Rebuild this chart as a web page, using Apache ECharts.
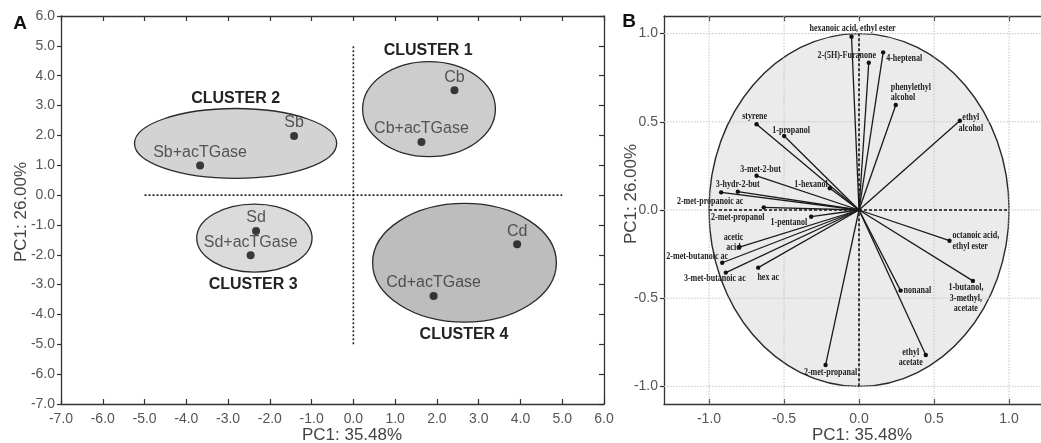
<!DOCTYPE html>
<html>
<head>
<meta charset="utf-8">
<script src="https://cdn.jsdelivr.net/npm/echarts@6/dist/echarts.min.js"></script>
<style>
html,body{margin:0;padding:0;background:#fff;}
#c{width:1041px;height:443px;}
</style>
</head>
<body>
<div id="c"></div>
<script>
// ---------- Panel A data ----------
const sampleNames = ['Cb','Cb+acTGase','Sb','Sb+acTGase','Sd','Sd+acTGase','Cd','Cd+acTGase'];
const sampleX = [2.42, 1.63, -1.42, -3.67, -2.33, -2.46, 3.92, 1.92];
const sampleY = [3.51, 1.78, 1.98, 0.99, -1.20, -2.02, -1.65, -3.38];

const clusterNames = ['CLUSTER 1','CLUSTER 2','CLUSTER 3','CLUSTER 4'];
const clusterCX = [1.81, -2.82, -2.37, 2.66];
const clusterCY = [2.88, 1.73, -1.44, -2.27];
const clusterRX = [1.59, 2.42, 1.38, 2.20];
const clusterRY = [1.59, 1.17, 1.14, 1.99];
const clusterLabelX = [1.79, -2.82, -2.40, 2.65];
const clusterLabelY = [4.84, 3.24, -3.01, -4.69];

const refLinesA = [[-5, 0, 5, 0], [0, -5, 0, 5]];

// ---------- Panel B data ----------
const loadNames = [
  'hexanoic acid, ethyl ester','2-(5H)-Furanone','4-heptenal','phenylethyl\nalcohol','ethyl\nalcohol',
  'styrene','1-propanol','3-met-2-but','3-hydr-2-but','2-met-propanoic ac','1-hexanol',
  '2-met-propanol','1-pentanol','acetic\nacid','2-met-butanoic ac','3-met-butanoic ac','hex ac',
  '2-met-propanal','octanoic acid,\nethyl ester','1-butanol,\n3-methyl,\nacetate','nonanal','ethyl\nacetate'
];
const loadX = [-0.05, 0.065, 0.161, 0.245, 0.672, -0.683, -0.499, -0.683, -0.808, -0.919, -0.195,
  -0.635, -0.319, -0.797, -0.912, -0.888, -0.672, -0.223, 0.603, 0.759, 0.277, 0.445];
const loadY = [0.982, 0.835, 0.894, 0.595, 0.506, 0.486, 0.420, 0.194, 0.104, 0.100, 0.123,
  0.015, -0.038, -0.210, -0.299, -0.355, -0.327, -0.879, -0.174, -0.402, -0.457, -0.822];
const ticksB = [-1.0, -0.5, 0.0, 0.5, 1.0];
const refLinesB = [[-1, 0, 1, 0], [0, -1, 0, 1]];
const rangeBX = [-1.3, 1.213];
const rangeBY = [-1.1, 1.1];

// label layout (pixel offsets from the point, alignment)
const loadLabelLayout = [
  [1,-9,'center'],[-22,-8,'center'],[3,6,'left'],[-5,-13,'left'],[11,2,'center'],
  [-2,-8,'center'],[7,-6,'center'],[4,-7,'center'],[0,-8,'center'],[-11,8.5,'center'],[-2,-4,'right'],
  [-26,10,'center'],[-4,5,'right'],[-6,-5,'center'],[-25,-7,'center'],[-11,6,'center'],[10,9,'center'],
  [5,7,'center'],[3,0,'left'],[-7,17,'center'],[3,0,'left'],[-15,2,'center']
];
const clusterFills = ['#cdcdcd','#d3d3d3','#dbdbdb','#bdbdbd'];

const AX = '#333';
const LBL = '#555';
const sans = '"Liberation Sans", Arial, sans-serif';
const fmt1 = v => Number(v).toFixed(1);

function lineAxis(opts){ return Object.assign({
  type:'value', splitLine:{show:false},
  axisLine:{show:true, onZero:false, lineStyle:{color:AX, width:1.3}},
  axisTick:{show:true, inside:true, length:5, lineStyle:{color:AX, width:1.2}},
  axisLabel:{show:false}
}, opts); }

const chart = echarts.init(document.getElementById('c'), null, {renderer:'canvas'});

const option = {
  animation:false,
  backgroundColor:'#fff',
  grid:[
    {left:61, top:16, width:543, height:388},
    {left:664, top:16, right:0, height:388}
  ],
  xAxis:[
    lineAxis({gridIndex:0, position:'bottom', min:-7, max:6, interval:1,
      axisLabel:{show:true, formatter:fmt1, color:LBL, fontSize:14, fontFamily:sans, margin:8}}),
    lineAxis({gridIndex:0, position:'top', min:-7, max:6, interval:1}),
    lineAxis({gridIndex:1, position:'bottom', min:rangeBX[0], max:rangeBX[1],
      axisTick:{show:true, inside:true, length:5, customValues:ticksB, lineStyle:{color:AX,width:1.2}},
      axisLabel:{show:true, customValues:ticksB, formatter:fmt1, color:LBL, fontSize:14, fontFamily:sans, margin:8}}),
    lineAxis({gridIndex:1, position:'top', min:rangeBX[0], max:rangeBX[1],
      axisTick:{show:true, inside:true, length:5, customValues:ticksB, lineStyle:{color:AX,width:1.2}}})
  ],
  yAxis:[
    lineAxis({gridIndex:0, position:'left', min:-7, max:6, interval:1,
      axisTick:{show:true, inside:false, length:4, lineStyle:{color:AX,width:1.2}},
      axisLabel:{show:true, formatter:fmt1, color:LBL, fontSize:14, fontFamily:sans, margin:6}}),
    lineAxis({gridIndex:0, position:'right', min:-7, max:6, interval:1}),
    lineAxis({gridIndex:1, position:'left', min:rangeBY[0], max:rangeBY[1],
      axisTick:{show:true, inside:false, length:4, customValues:ticksB, lineStyle:{color:AX,width:1.2}},
      axisLabel:{show:true, customValues:ticksB, formatter:fmt1, color:LBL, fontSize:14, fontFamily:sans, margin:6}})
  ],
  graphic:[
    {type:'text', x:20, y:24, style:{text:'A', font:'bold 19px '+sans, fill:'#111', textAlign:'center', textVerticalAlign:'middle', align:'center', verticalAlign:'middle'}},
    {type:'text', x:629, y:22, style:{text:'B', font:'bold 19px '+sans, fill:'#111', textAlign:'center', textVerticalAlign:'middle', align:'center', verticalAlign:'middle'}},
    {type:'text', x:352, y:435, style:{text:'PC1: 35.48%', font:'17px '+sans, fill:'#444', textAlign:'center', textVerticalAlign:'middle', align:'center', verticalAlign:'middle'}},
    {type:'text', x:862, y:435, style:{text:'PC1: 35.48%', font:'17px '+sans, fill:'#444', textAlign:'center', textVerticalAlign:'middle', align:'center', verticalAlign:'middle'}},
    {type:'text', x:21, y:212, rotation:Math.PI/2, style:{text:'PC1: 26.00%', font:'17px '+sans, fill:'#444', textAlign:'center', textVerticalAlign:'middle', align:'center', verticalAlign:'middle'}},
    {type:'text', x:631, y:194, rotation:Math.PI/2, style:{text:'PC1: 26.00%', font:'17px '+sans, fill:'#444', textAlign:'center', textVerticalAlign:'middle', align:'center', verticalAlign:'middle'}}
  ],
  series:[
    // Panel A: cluster ellipses
    {type:'custom', xAxisIndex:0, yAxisIndex:0, z:1,
      data: clusterCX.map((x,i)=>[x, clusterCY[i], clusterRX[i], clusterRY[i]]),
      encode:{x:0, y:1},
      renderItem:(params, api)=>{
        const c = api.coord([api.value(0), api.value(1)]);
        const s = api.size([api.value(2), api.value(3)]);
        return {type:'ellipse', shape:{cx:c[0], cy:c[1], rx:s[0], ry:s[1]},
          style:{fill:clusterFills[params.dataIndex], stroke:'#2a2a2a', lineWidth:1.3}};
      }},
    // Panel A: dotted reference lines
    {type:'custom', xAxisIndex:0, yAxisIndex:0, z:2,
      data: refLinesA, encode:{x:[0,2], y:[1,3]},
      renderItem:(params, api)=>{
        const a = api.coord([api.value(0), api.value(1)]);
        const b = api.coord([api.value(2), api.value(3)]);
        return {type:'line', shape:{x1:a[0], y1:a[1], x2:b[0], y2:b[1]},
          style:{stroke:'#222', lineWidth:1.6, lineDash:[2,2]}};
      }},
    // Panel A: cluster labels
    {type:'custom', xAxisIndex:0, yAxisIndex:0, z:3,
      data: clusterLabelX.map((x,i)=>[x, clusterLabelY[i]]),
      encode:{x:0, y:1},
      renderItem:(params, api)=>{
        const c = api.coord([api.value(0), api.value(1)]);
        return {type:'text', x:c[0], y:c[1],
          style:{text:clusterNames[params.dataIndex], font:'bold 16px '+sans, fill:'#222',
            align:'center', verticalAlign:'middle', textAlign:'center', textVerticalAlign:'middle'}};
      }},
    // Panel A: sample points
    {type:'scatter', xAxisIndex:0, yAxisIndex:0, z:4,
      data: sampleX.map((x,i)=>({value:[x, sampleY[i]], name:sampleNames[i]})),
      symbol:'circle', symbolSize:8, itemStyle:{color:'#111'},
      label:{show:true, position:'top', distance:1, formatter:p=>p.name,
        color:'#333', fontSize:16, fontFamily:sans, lineHeight:16}},

    // Panel B: correlation circle
    {type:'custom', xAxisIndex:2, yAxisIndex:2, z:1,
      data:[[0,0,1,1]], encode:{x:0, y:1},
      renderItem:(params, api)=>{
        const c = api.coord([api.value(0), api.value(1)]);
        const s = api.size([api.value(2), api.value(3)]);
        return {type:'ellipse', shape:{cx:c[0], cy:c[1], rx:s[0], ry:s[1]},
          style:{fill:'#ebebeb', stroke:'#2a2a2a', lineWidth:1.4}};
      }},
    // Panel B: light grid lines
    {type:'custom', xAxisIndex:2, yAxisIndex:2, z:2,
      data: ticksB.map(t=>[t, rangeBY[0], t, rangeBY[1]]).concat(ticksB.map(t=>[rangeBX[0], t, rangeBX[1], t])),
      encode:{x:[0,2], y:[1,3]},
      renderItem:(params, api)=>{
        const a = api.coord([api.value(0), api.value(1)]);
        const b = api.coord([api.value(2), api.value(3)]);
        return {type:'line', shape:{x1:a[0], y1:a[1], x2:b[0], y2:b[1]},
          style:{stroke:'#c4c4c4', lineWidth:1, lineDash:[1.5,1.5]}};
      }},
    // Panel B: dark dashed axes through origin
    {type:'custom', xAxisIndex:2, yAxisIndex:2, z:3,
      data: refLinesB, encode:{x:[0,2], y:[1,3]},
      renderItem:(params, api)=>{
        const a = api.coord([api.value(0), api.value(1)]);
        const b = api.coord([api.value(2), api.value(3)]);
        return {type:'line', shape:{x1:a[0], y1:a[1], x2:b[0], y2:b[1]},
          style:{stroke:'#111', lineWidth:1.6, lineDash:[3,2]}};
      }},
    // Panel B: loading vectors
    {type:'custom', xAxisIndex:2, yAxisIndex:2, z:4,
      data: loadX.map((x,i)=>[x, loadY[i]]), encode:{x:0, y:1},
      renderItem:(params, api)=>{
        const i = params.dataIndex;
        const o = api.coord([0,0]);
        const p = api.coord([api.value(0), api.value(1)]);
        const lp = loadLabelLayout[i];
        return {type:'group', children:[
          {type:'line', shape:{x1:o[0], y1:o[1], x2:p[0], y2:p[1]}, style:{stroke:'#1a1a1a', lineWidth:1.3}},
          {type:'circle', shape:{cx:p[0], cy:p[1], r:2.2}, style:{fill:'#111'}},
          {type:'text', x:p[0]+lp[0], y:p[1]+lp[1], scaleX:0.73, scaleY:1,
            style:{text:loadNames[i], font:'bold 11px "Liberation Serif", serif', fill:'#222',
              align:lp[2], verticalAlign:'middle', textAlign:lp[2], textVerticalAlign:'middle', lineHeight:10.5}}
        ]};
      }}
  ]
};
chart.setOption(option);
</script>
</body>
</html>
